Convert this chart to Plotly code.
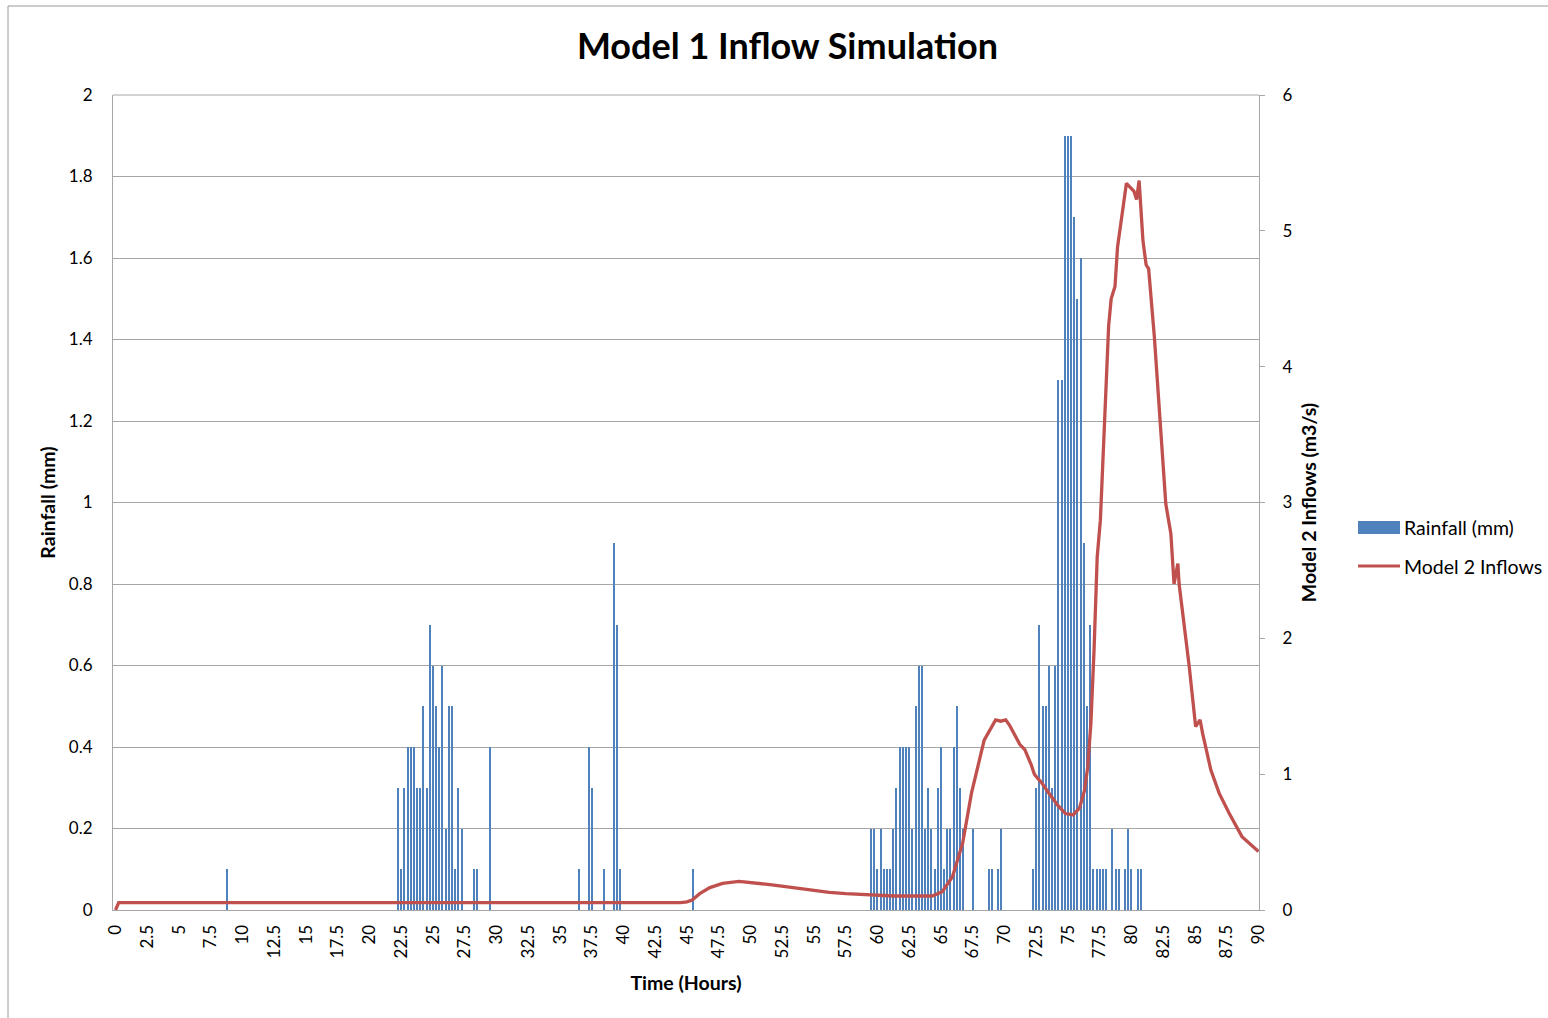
import plotly.graph_objects as go

# Rainfall record: time (hours) of each non-zero reading and depth (mm)
rain_time = [
    8.75,
    22.25, 22.5, 22.75, 23.0, 23.25, 23.5, 23.75, 24.0, 24.25, 24.5, 24.75,
    25.0, 25.25, 25.5, 25.75, 26.0, 26.25, 26.5, 26.75, 27.0, 27.25,
    28.25, 28.5, 29.5,
    36.5, 37.25, 37.5, 38.5, 39.25, 39.5, 39.75,
    45.5,
    59.5, 59.75, 60.0, 60.25, 60.5, 60.75, 61.0, 61.25, 61.5, 61.75, 62.0,
    62.25, 62.5, 62.75, 63.0, 63.25, 63.5, 63.75, 64.0, 64.25, 64.5, 64.75,
    65.0, 65.25, 65.5, 65.75, 66.0, 66.25, 66.5, 66.75, 67.5, 68.75, 69.0,
    69.5, 69.75,
    72.25, 72.5, 72.75, 73.0, 73.25, 73.5, 73.75, 74.0, 74.25, 74.5, 74.75,
    75.0, 75.25, 75.5, 75.75, 76.0, 76.25, 76.5, 76.75, 77.0, 77.25, 77.5,
    77.75, 78.0, 78.5, 78.75, 79.0, 79.5, 79.75, 80.0, 80.5, 80.75,
]
rain_mm = [
    0.1,
    0.3, 0.1, 0.3, 0.4, 0.4, 0.4, 0.3, 0.3, 0.5, 0.3, 0.7,
    0.6, 0.5, 0.4, 0.6, 0.2, 0.5, 0.5, 0.1, 0.3, 0.2,
    0.1, 0.1, 0.4,
    0.1, 0.4, 0.3, 0.1, 0.9, 0.7, 0.1,
    0.1,
    0.2, 0.2, 0.1, 0.2, 0.1, 0.1, 0.1, 0.2, 0.3, 0.4, 0.4,
    0.4, 0.4, 0.2, 0.5, 0.6, 0.6, 0.2, 0.3, 0.2, 0.1, 0.3,
    0.4, 0.1, 0.2, 0.2, 0.4, 0.5, 0.3, 0.2, 0.2, 0.1, 0.1,
    0.1, 0.2,
    0.1, 0.3, 0.7, 0.5, 0.5, 0.6, 0.3, 0.6, 1.3, 1.3, 1.9,
    1.9, 1.9, 1.7, 1.5, 1.6, 0.9, 0.5, 0.7, 0.1, 0.1, 0.1,
    0.1, 0.1, 0.2, 0.1, 0.1, 0.1, 0.2, 0.1, 0.1, 0.1,
]

# Simulated inflow hydrograph (m3/s)
flow_time = [
    0, 0.25, 44.5, 45.0, 45.4, 46.0, 46.8, 47.8, 49.1, 50.1, 51.2, 52.3,
    53.6, 54.9, 56.2, 57.5, 58.8, 60.1, 61.3, 64.3, 65.1, 65.9, 66.7, 67.4,
    68.4, 69.3, 69.7, 70.1, 70.4, 71.2, 71.6, 72.1, 72.35, 72.6, 72.9, 73.5,
    74.2, 74.8, 75.4, 75.9, 76.3, 76.55, 76.8, 77.05, 77.3, 77.55, 78.2,
    78.4, 78.7, 78.9, 79.6, 80.2, 80.4, 80.6, 80.7, 80.9, 81.15, 81.35,
    81.8, 82.45, 82.7, 83.1, 83.35, 83.65, 83.75, 84.55, 85.05, 85.4, 85.6,
    86.25, 86.9, 87.7, 88.7, 90.0,
]
flow_m3s = [
    0, 0.055, 0.055, 0.06, 0.074, 0.12, 0.165, 0.196, 0.21, 0.203, 0.19,
    0.177, 0.16, 0.142, 0.13, 0.12, 0.113, 0.108, 0.103, 0.103, 0.135,
    0.245, 0.49, 0.86, 1.25, 1.40, 1.39, 1.40, 1.36, 1.22, 1.18, 1.07, 1.0,
    0.97, 0.94, 0.86, 0.77, 0.71, 0.70, 0.75, 0.88, 1.05, 1.37, 1.91, 2.6,
    2.87, 4.3, 4.5, 4.59, 4.88, 5.35, 5.29, 5.23, 5.37, 5.23, 4.93, 4.75,
    4.72, 4.22, 3.31, 2.99, 2.77, 2.40, 2.55, 2.40, 1.79, 1.35, 1.40, 1.30,
    1.03, 0.86, 0.71, 0.54, 0.43,
]

FONT = "Lato"
BLUE = "#4F81BD"
RED = "#C0504D"
GRID = "#A6A6A6"

W, H = 1548, 1018
L, R, T, B = 113, 1259, 95, 910


def px(x):
    return (x - L) / (R - L)


def py(y):
    return (B - y) / (B - T)


fig = go.Figure()
fig.add_trace(go.Bar(
    x=rain_time, y=rain_mm, name="Rainfall (mm)",
    width=0.09, marker=dict(color=BLUE, line=dict(width=0)),
    showlegend=False,
))
fig.add_trace(go.Scatter(
    x=flow_time, y=flow_m3s, name="Model 2 Inflows", yaxis="y2",
    mode="lines", line=dict(color=RED, width=3.3),
    showlegend=False,
))

shapes = [
    # chart frame
    dict(type="rect", xref="paper", yref="paper",
         x0=px(8), x1=px(1552), y0=py(1024), y1=py(6),
         line=dict(color="#9A9A9A", width=1)),
    # legend keys
    dict(type="rect", xref="paper", yref="paper",
         x0=px(1358), x1=px(1400), y0=py(534), y1=py(521),
         fillcolor=BLUE, line=dict(width=0)),
    dict(type="line", xref="paper", yref="paper",
         x0=px(1358), x1=px(1400), y0=py(566), y1=py(566),
         line=dict(color=RED, width=3)),
    # top border of the plotting area
    dict(type="line", xref="paper", yref="paper", x0=0, x1=1, y0=1, y1=1,
         line=dict(color=GRID, width=1)),
]

annotations = [
    dict(text="Rainfall (mm)", xref="paper", yref="paper",
         x=px(1402), y=py(527), xanchor="left", yanchor="middle",
         showarrow=False, font=dict(family=FONT, size=19.5, color="#000")),
    dict(text="Model 2 Inflows", xref="paper", yref="paper",
         x=px(1402), y=py(566), xanchor="left", yanchor="middle",
         showarrow=False, font=dict(family=FONT, size=19.5, color="#000")),
]

fig.update_layout(
    width=W, height=H,
    margin=dict(l=L, r=W - R, t=T, b=H - B),
    paper_bgcolor="white", plot_bgcolor="white",
    font=dict(family=FONT, size=16, color="#000"),
    title=dict(text="<b>Model 1 Inflow Simulation</b>", x=(578 + 997) / 2 / W,
               xanchor="center", y=1 - 46 / H, yanchor="middle",
               font=dict(family=FONT, size=36, color="#000")),
    bargap=0,
    xaxis=dict(
        range=[-0.2, 90.04], tickmode="linear", tick0=0, dtick=2.5,
        tickangle=-90, showgrid=False, showline=True, linecolor=GRID,
        linewidth=1, ticks="", ticklabelstandoff=7, zeroline=False,
        tickfont=dict(size=17),
        title=dict(text="<b>Time (Hours)</b>", standoff=18,
                   font=dict(size=19.5)),
    ),
    yaxis=dict(
        range=[0, 2], tickmode="linear", tick0=0, dtick=0.2,
        showgrid=True, gridcolor=GRID, gridwidth=1, showline=True,
        linecolor=GRID, linewidth=1, ticks="", zeroline=False,
        ticklabelstandoff=16, tickfont=dict(size=17),
        title=dict(text="<b>Rainfall (mm)</b>", standoff=8,
                   font=dict(size=19.5)),
    ),
    yaxis2=dict(
        range=[0, 6], tickmode="linear", tick0=0, dtick=1,
        overlaying="y", side="right", showgrid=False, showline=True,
        linecolor=GRID, linewidth=1, ticks="outside", ticklen=5,
        tickcolor=GRID, zeroline=False, ticklabelstandoff=14,
        tickfont=dict(size=17),
        title=dict(text="<b>Model 2 Inflows (m3/s)</b>", standoff=10,
                   font=dict(size=19.5)),
    ),
    shapes=shapes,
    annotations=annotations,
)

fig.write_html("out.html")
